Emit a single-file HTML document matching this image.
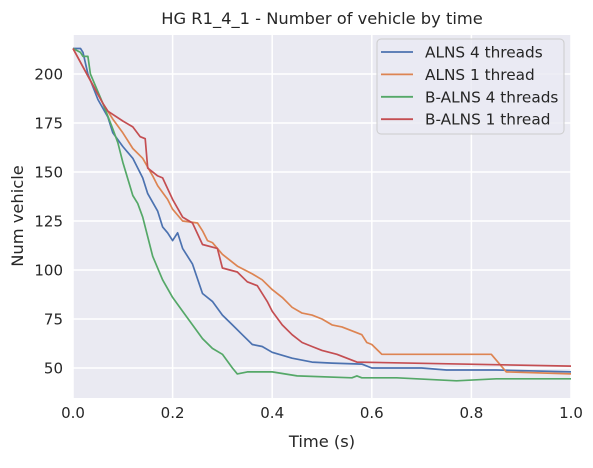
<!DOCTYPE html>
<html><head><meta charset="utf-8"><style>
body{margin:0;background:#fff;}
svg{font-family:"DejaVu Sans","Liberation Sans",sans-serif;}
</style></head><body>
<svg id="chart" width="593" height="463">
<rect x="73" y="35" width="498" height="363" fill="#eaeaf2"/>
<g id="grid"></g><g id="ticks"></g><g id="lines"></g>
<text x="322" y="24" text-anchor="middle" font-size="16.3" fill="#262626">HG R1_4_1 - Number of vehicle by time</text>
<text x="322" y="447" text-anchor="middle" font-size="16.3" fill="#262626">Time (s)</text>
<text x="23" y="216" text-anchor="middle" font-size="16.3" fill="#262626" transform="rotate(-90 23 216)">Num vehicle</text>
<g id="legend"></g>
</svg>
<script>
const xTicks=[0,0.2,0.4,0.6,0.8,1.0];
const xTickLabels=["0.0","0.2","0.4","0.6","0.8","1.0"];
const yTicks=[50,75,100,125,150,175,200];
const seriesNames=["ALNS 4 threads","ALNS 1 thread","B-ALNS 4 threads","B-ALNS 1 thread"];
const seriesColors=["#4c72b0","#dd8452","#55a868","#c44e52"];
const alns4T=[0,0.015,0.02,0.03,0.05,0.07,0.08,0.1,0.12,0.14,0.15,0.17,0.18,0.19,0.2,0.21,0.22,0.24,0.26,0.28,0.3,0.32,0.34,0.36,0.38,0.4,0.44,0.48,0.52,0.58,0.6,0.7,0.75,0.85,1.0];
const alns4V=[213,213,211,200,187,178,170,163,157,147,139,130,122,119,115,119,111,103,88,84,77,72,67,62,61,58,55,53,52.5,52,50,50,49,49,48];
const alns1T=[0,0.03,0.06,0.08,0.1,0.12,0.14,0.16,0.17,0.19,0.2,0.22,0.25,0.26,0.27,0.28,0.3,0.33,0.36,0.38,0.4,0.42,0.44,0.46,0.48,0.5,0.52,0.54,0.56,0.58,0.59,0.6,0.62,0.7,0.84,0.87,1.0];
const alns1V=[213,199,185,177,170,162,157,148,143,136,131,125,124,120,115,114,108,102,98,95,90,86,81,78,77,75,72,71,69,67,63,62,57,57,57,48,47];
const balns4T=[0,0.015,0.02,0.03,0.035,0.06,0.08,0.09,0.1,0.12,0.13,0.14,0.16,0.18,0.2,0.22,0.24,0.26,0.28,0.3,0.32,0.33,0.35,0.4,0.45,0.56,0.57,0.58,0.65,0.77,0.85,1.0];
const balns4V=[213,211,209,209,200,185,172,165,155,138,134,127,107,95,86,79,72,65,60,57,50,47,48,48,46,45,46,45,45,43.5,44.5,44.5];
const balns1T=[0,0.03,0.06,0.07,0.1,0.12,0.135,0.145,0.15,0.17,0.18,0.2,0.22,0.24,0.26,0.29,0.3,0.33,0.35,0.37,0.39,0.4,0.42,0.44,0.46,0.48,0.5,0.53,0.55,0.57,1.0];
const balns1V=[213,199,185,181,176,173,168,167,152,148,147,136,127,124,113,111,101,99,94,92,84,79,72,67,63,61,59,57,55,53,51];
const seriesT=[alns4T,alns1T,balns4T,balns1T];
const seriesV=[alns4V,alns1V,balns4V,balns1V];
const X0=73,X1=571,Y0=35,Y1=398,VMIN=34.7,VMAX=219.9;
function xs(t){return X0+t*(X1-X0);}
function ys(v){return Y1-(v-VMIN)/(VMAX-VMIN)*(Y1-Y0);}
const NS="http://www.w3.org/2000/svg";
function mk(tag,attrs,parent){const e=document.createElementNS(NS,tag);for(const k in attrs)e.setAttribute(k,attrs[k]);parent.appendChild(e);return e;}
const grid=document.getElementById('grid'),ticks=document.getElementById('ticks'),lines=document.getElementById('lines'),legend=document.getElementById('legend');
xTicks.forEach((t,i)=>{
 const l=mk('line',{x1:xs(t),x2:xs(t),y1:Y0,y2:Y1,stroke:'#fff','stroke-width':1.5},grid);
 
 
 const tx=mk('text',{x:xs(t),y:Y1+20,'text-anchor':'middle','font-size':15,fill:'#262626'},ticks);
 tx.textContent=xTickLabels[i];
 
 
});
yTicks.forEach(v=>{
 const l=mk('line',{x1:X0,x2:X1,y1:ys(v),y2:ys(v),stroke:'#fff','stroke-width':1.5},grid);
 
 
 const tx=mk('text',{x:X0-10,y:ys(v)+5.5,'text-anchor':'end','font-size':15,fill:'#262626'},ticks);
 tx.textContent=String(v);
 
 
});
seriesT.forEach((T,s)=>{
 const d=T.map((t,i)=>(i?'L':'M')+xs(t).toFixed(1)+' '+ys(seriesV[s][i]).toFixed(1)).join(' ');
 const p=mk('path',{d:d,fill:'none',stroke:seriesColors[s],'stroke-width':1.7,'stroke-linejoin':'round'},lines);
 
 
});
const lb=mk('rect',{x:377,y:39,width:187,height:95,rx:4,fill:'#eaeaf2','fill-opacity':0.8,stroke:'#ccc','stroke-width':1},legend);


seriesNames.forEach((n,i)=>{
 const y=52+i*22.4;
 const g=mk('g',{},legend);
 
 
 mk('line',{x1:381,x2:413,y1:y,y2:y,stroke:seriesColors[i],'stroke-width':1.8},g);
 const tx=mk('text',{x:425,y:y+5.5,'font-size':15.3,fill:'#262626'},g);
 tx.textContent=n;
});
</script>
</body></html>
